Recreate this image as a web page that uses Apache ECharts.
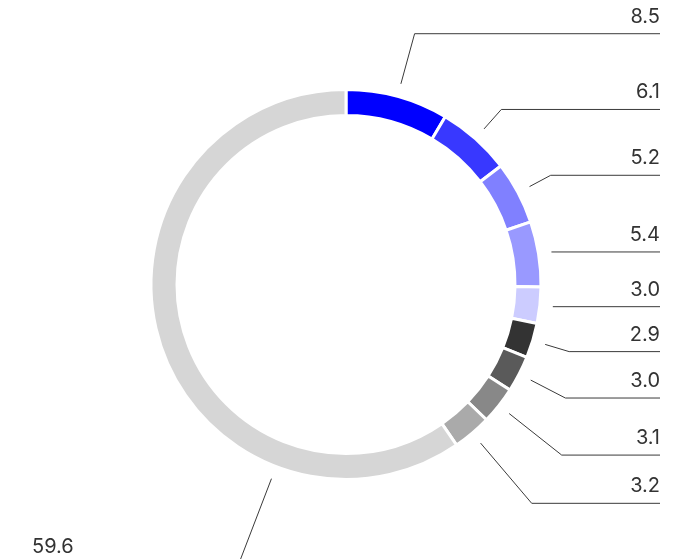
<!DOCTYPE html>
<html>
<head>
<meta charset="utf-8">
<style>
  html, body { margin: 0; padding: 0; background: #fff; }
  #chart { width: 682px; height: 559px; }
</style>
<script src="https://cdn.jsdelivr.net/npm/echarts@6/dist/echarts.min.js"></script>
</head>
<body>
<div id="chart"></div>
<script>
// data
var categories = ['Segment 1', 'Segment 2', 'Segment 3', 'Segment 4', 'Segment 5',
                  'Segment 6', 'Segment 7', 'Segment 8', 'Segment 9', 'Rest'];
var values = [8.5, 6.1, 5.2, 5.4, 3.0, 2.9, 3.0, 3.1, 3.2, 59.6];

// styling
var colors = ['#0000ff', '#3838ff', '#8080ff', '#9999ff', '#ccccff',
              '#333333', '#5a5a5a', '#888888', '#aaaaaa', '#d6d6d6'];
var leaderLengths = [65, 39, 37, 13, 13, 38, 52, 80, 92, 0];

var CX = 346, CY = 284.5;      // ring centre
var R_OUT = 193.5;             // visible outer radius
var GAP = 14.5;                // space between ring and leader start
var BIG_ANGLE = 201;           // where the big slice's leader leaves the ring
var BIG_LEN = 106;

var chart = echarts.init(document.getElementById('chart'));

chart.setOption({
    animation: false,
    series: [{
        type: 'pie',
        center: [CX, CY],
        radius: [169, R_OUT + 1.5],
        startAngle: 90,
        clockwise: true,
        avoidLabelOverlap: true,
        emphasis: { disabled: true },
        itemStyle: {
            borderColor: '#fff',
            borderWidth: 3
        },
        label: {
            show: true,
            position: 'outer',
            alignTo: 'edge',
            edgeDistance: 22,
            formatter: function (p) { return p.value.toFixed(1); },
            fontFamily: 'Inter',
            fontSize: 20,
            lineHeight: 22,
            color: '#333'
        },
        labelLine: {
            show: true,
            length: 20,
            length2: 10,
            lineStyle: { color: '#3a3a3a', width: 1 }
        },
        // push the leader start off the ring and run the line under the text
        labelLayout: function (params) {
            var pts = params.labelLinePoints;
            if (!pts) return;
            var rect = params.labelRect;
            if (params.dataIndex === values.length - 1) {
                var a = BIG_ANGLE * Math.PI / 180;
                var rs = R_OUT + GAP, rb = R_OUT + BIG_LEN;
                var s = [CX + rs * Math.sin(a), CY - rs * Math.cos(a)];
                var b = [CX + rb * Math.sin(a), CY - rb * Math.cos(a)];
                return {
                    y: b[1],
                    dx: 10,
                    dy: -17,
                    labelLinePoints: [s, b, [rect.x + 10, b[1]]]
                };
            }
            var ang = Math.atan2(pts[0][1] - CY, pts[0][0] - CX);
            var bendR = Math.sqrt(Math.pow(pts[1][0] - CX, 2) + Math.pow(pts[1][1] - CY, 2));
            var sr = Math.min(R_OUT + GAP, bendR);
            var start = [CX + sr * Math.cos(ang), CY + sr * Math.sin(ang)];
            return {
                dy: -17,
                labelLinePoints: [start, pts[1], [rect.x + rect.width, pts[1][1]]]
            };
        },
        data: values.map(function (v, i) {
            return {
                name: categories[i],
                value: v,
                itemStyle: { color: colors[i] },
                labelLine: { length: leaderLengths[i] }
            };
        })
    }]
});
</script>
</body>
</html>
